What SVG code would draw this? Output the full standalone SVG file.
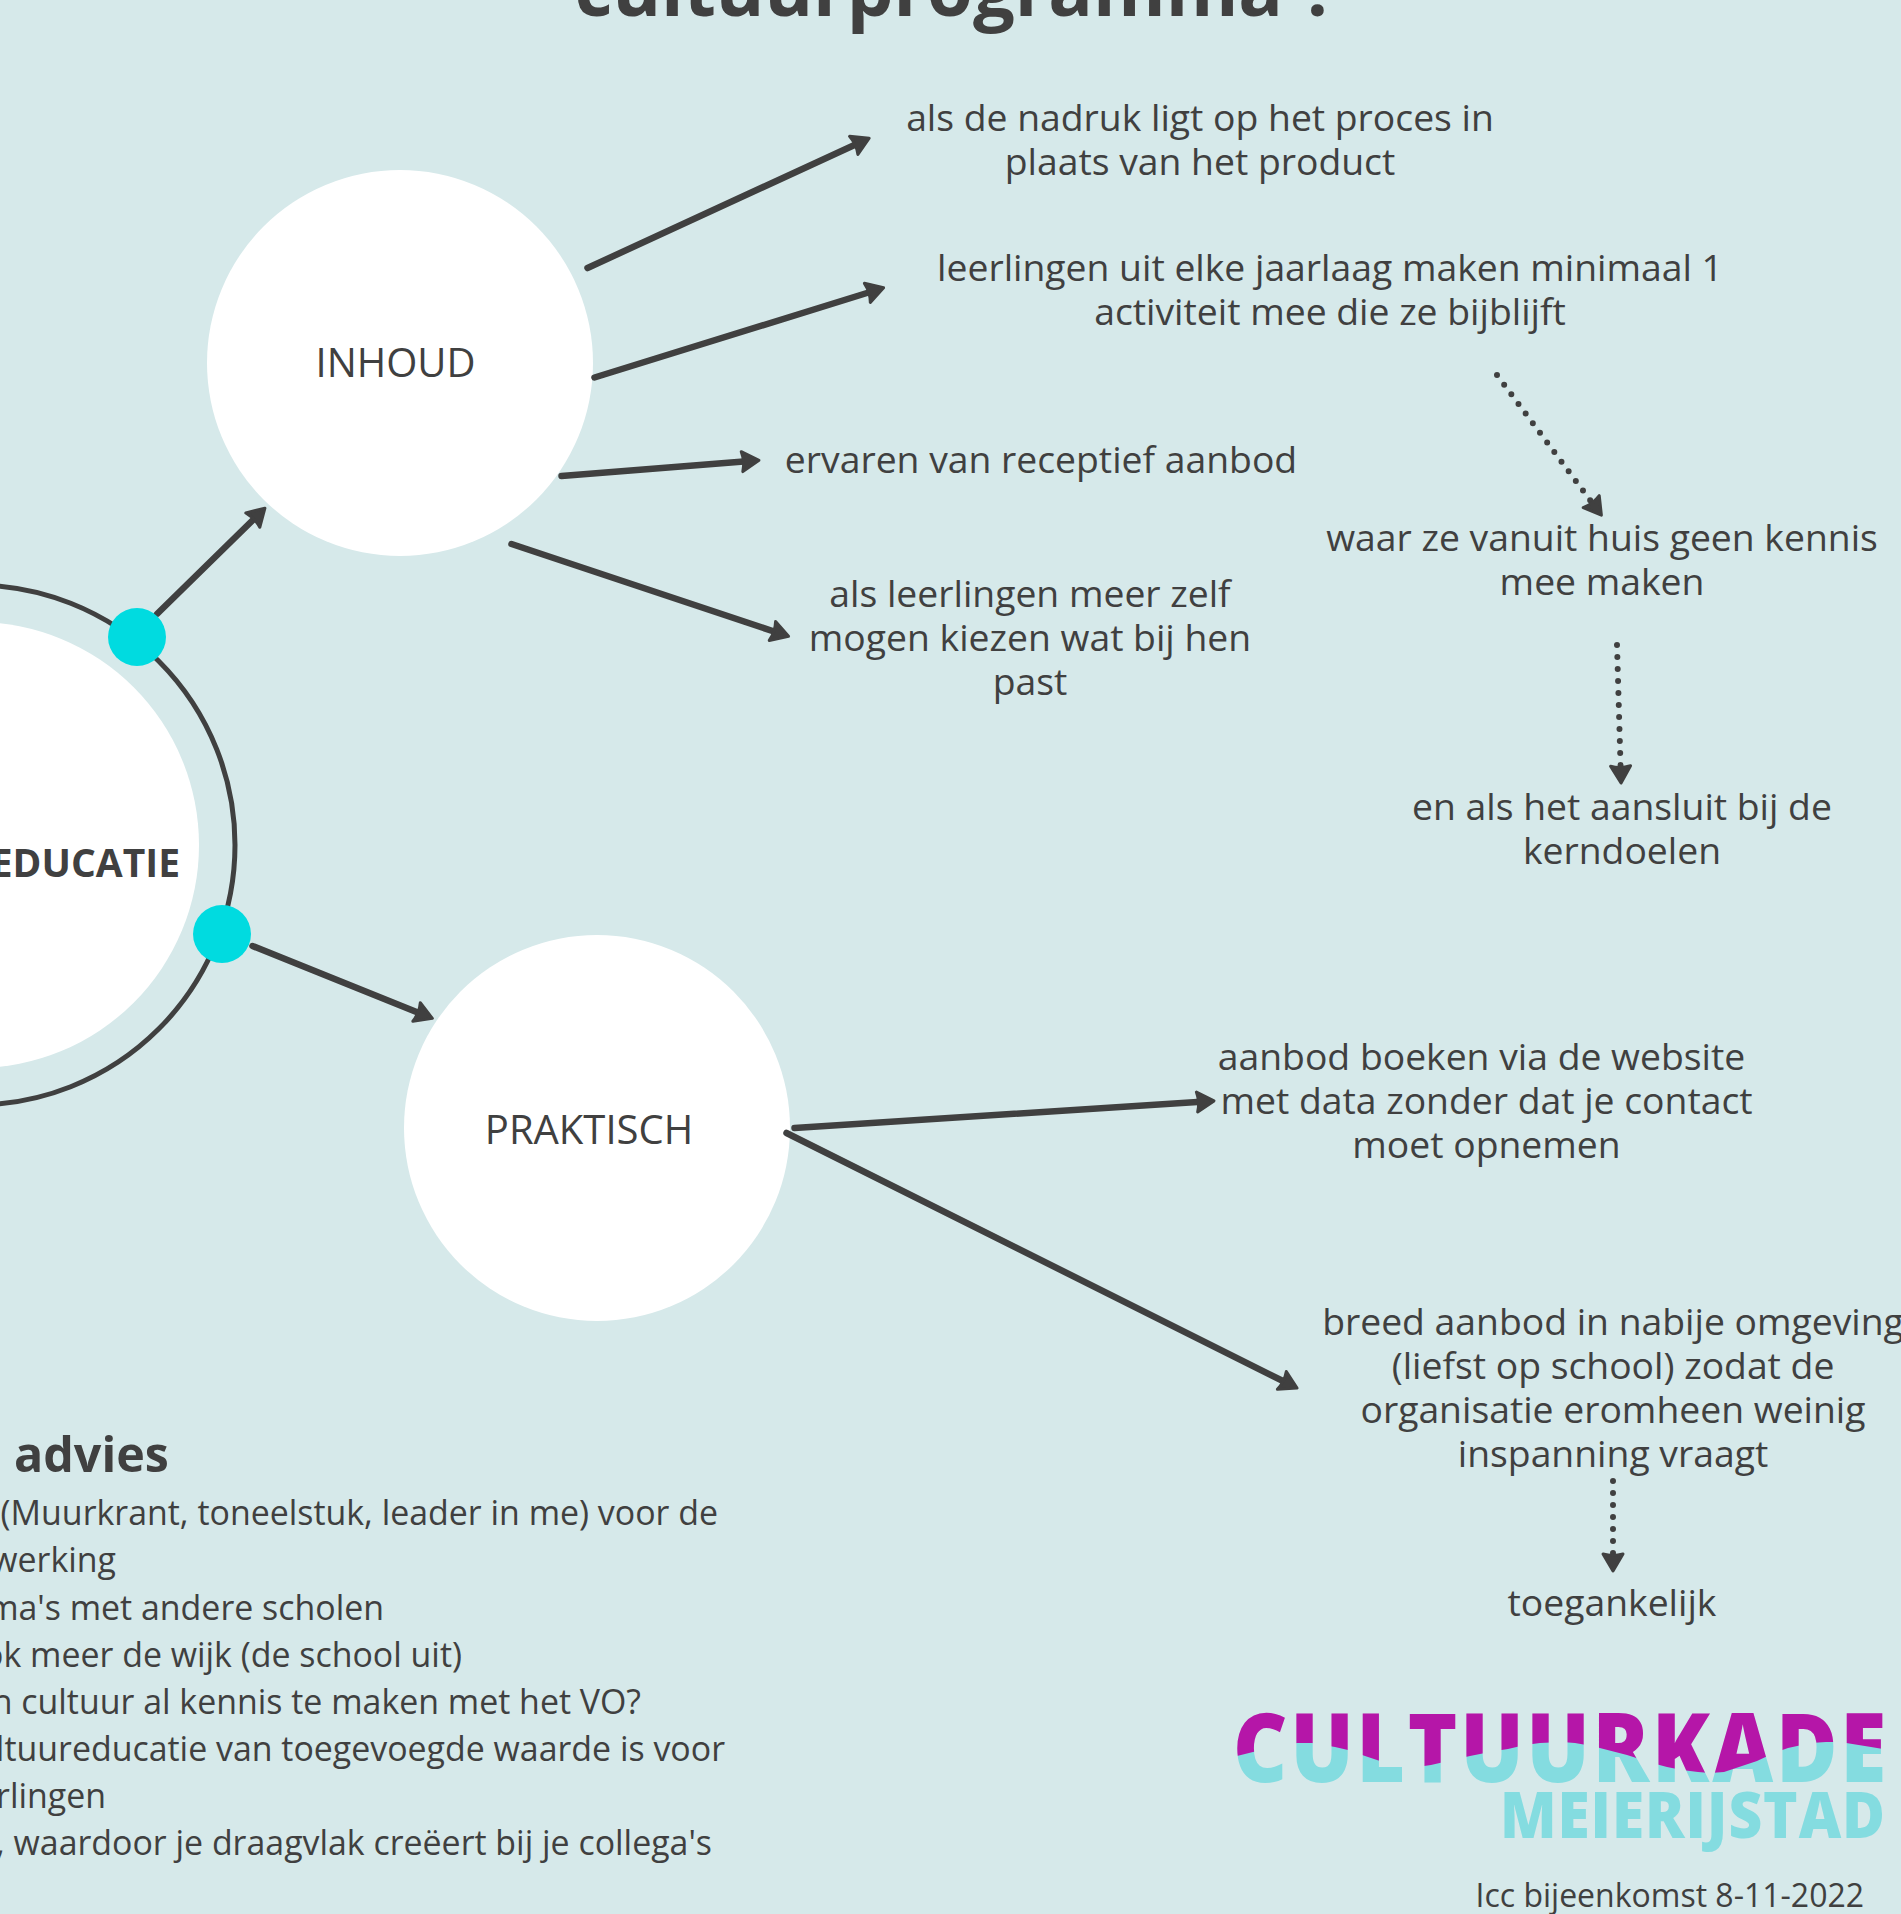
<svg xmlns="http://www.w3.org/2000/svg" width="1901" height="1914" viewBox="0 0 1901 1914">
<style>
text{font-family:"Open Sans","Noto Sans","Liberation Sans",sans-serif;fill:#404040}
.t{font-size:37.3px;text-anchor:middle}
.l{font-size:33.9px;text-anchor:end}
.n{font-size:40px;text-anchor:middle}
.c{stroke:#404040;stroke-width:6.5;stroke-linecap:round;fill:none;marker-end:url(#a)}
.d{stroke:#404040;stroke-width:6;stroke-linecap:round;stroke-dasharray:0 12;fill:none;marker-end:url(#a)}
.w{fill:#fff}.dot{fill:#00dbe0}
</style>
<defs>
<marker id="a" markerUnits="userSpaceOnUse" viewBox="-14 -14 28 28" refX="0" refY="0" markerWidth="28" markerHeight="28" orient="auto">
<path d="M-8,-10 L9,0 L-8,10 Q-5,0 -8,-10Z" fill="#404040" stroke="#404040" stroke-width="3" stroke-linejoin="round"/>
</marker>
<pattern id="wave" patternUnits="userSpaceOnUse" x="1200" y="1700" width="701" height="100">
<rect width="701" height="100" fill="#84dce0"/>
<path d="M0,0H701V52L671,47 640,42 626,42 611,43 588,48 574,53 557,61 524,72 510,73 498,72 482,70 467,67 452,63 427,55 392,46 375,43 362,42 340,43 325,45 308,49 295,51 270,56 257,59 231,65 217,67 180,61 165,56 148,50 135,47 112,43 97,43 53,52 37,56 0,60Z" fill="#b516a8"/>
</pattern>
</defs>
<rect width="1901" height="1914" fill="#d6e9ea"/>
<text id="title" x="956" y="15.5" font-size="74" font-weight="700" text-anchor="middle">cultuurprogramma ?</text>
<g id="center">
<circle cx="-25" cy="845" r="260" fill="none" stroke="#404040" stroke-width="5"/>
<circle class="w" cx="-24" cy="845" r="223"/>
<text x="180" y="877" font-size="39" font-weight="700" text-anchor="end">EDUCATIE</text>
</g>
<g id="inhoud"><circle class="w" cx="400" cy="363" r="193"/><text class="n" x="395.5" y="377">INHOUD</text></g>
<g id="praktisch"><circle class="w" cx="597" cy="1128" r="193"/><text class="n" x="589" y="1144">PRAKTISCH</text></g>
<g id="connectors">
<line class="c" x1="587.5" y1="268" x2="861" y2="142"/>
<line class="c" x1="594.5" y1="377.5" x2="875" y2="290.5"/>
<line class="c" x1="561.5" y1="476" x2="750" y2="461"/>
<line class="c" x1="511.5" y1="544" x2="780" y2="633.5"/>
<line class="c" x1="157" y1="614" x2="258.5" y2="514.5"/>
<line class="c" x1="252.5" y1="946" x2="424" y2="1015"/>
<line class="c" x1="794.5" y1="1128" x2="1205" y2="1101.5"/>
<line class="c" x1="786.5" y1="1133" x2="1289" y2="1384"/>
<line class="d" x1="1497" y1="375" x2="1596" y2="508"/>
<line class="d" x1="1617" y1="645" x2="1620.8" y2="774"/>
<line class="d" x1="1613" y1="1481" x2="1613" y2="1562"/>
</g>
<circle id="dot1" class="dot" cx="137" cy="637" r="29"/>
<circle id="dot2" class="dot" cx="222" cy="934" r="29"/>
<g id="t1"><text class="t" x="1200" y="131">als de nadruk ligt op het proces in</text><text class="t" x="1200" y="175">plaats van het product</text></g>
<g id="t2"><text class="t" x="1330" y="281">leerlingen uit elke jaarlaag maken minimaal 1</text><text class="t" x="1330" y="325">activiteit mee die ze bijblijft</text></g>
<g id="t3"><text class="t" x="1041" y="473">ervaren van receptief aanbod</text></g>
<g id="t4"><text class="t" x="1030" y="607">als leerlingen meer zelf</text><text class="t" x="1030" y="651">mogen kiezen wat bij hen</text><text class="t" x="1030" y="695">past</text></g>
<g id="t5"><text class="t" x="1602" y="551">waar ze vanuit huis geen kennis</text><text class="t" x="1602" y="595">mee maken</text></g>
<g id="t6"><text class="t" x="1622" y="820">en als het aansluit bij de</text><text class="t" x="1622" y="864">kerndoelen</text></g>
<g id="t7"><text class="t" x="1481.5" y="1069.5">aanbod boeken via de website</text><text class="t" x="1486.5" y="1113.5">met data zonder dat je contact</text><text class="t" x="1486.5" y="1157.5">moet opnemen</text></g>
<g id="t8"><text class="t" x="1613" y="1335">breed aanbod in nabije omgeving</text><text class="t" x="1613" y="1379">(liefst op school) zodat de</text><text class="t" x="1613" y="1423">organisatie eromheen weinig</text><text class="t" x="1613" y="1467">inspanning vraagt</text></g>
<g id="t9"><text class="t" x="1612" y="1616">toegankelijk</text></g>
<g id="advies">
<text x="14" y="1472" font-size="48.4" font-weight="700">advies</text>
<text class="l" x="718" y="1525">(Muurkrant, toneelstuk, leader in me) voor de</text>
<text class="l" x="116" y="1572">werking</text>
<text class="l" x="384" y="1619.5">ma's met andere scholen</text>
<text class="l" x="462" y="1666.5">ok meer de wijk (de school uit)</text>
<text class="l" x="641" y="1714">n cultuur al kennis te maken met het VO?</text>
<text class="l" x="725" y="1761">ltuureducatie van toegevoegde waarde is voor</text>
<text class="l" x="106" y="1808">rlingen</text>
<text class="l" x="712" y="1855">, waardoor je draagvlak creëert bij je collega's</text>
</g>
<g id="logo">
<text x="1233" y="1782" font-size="95" font-weight="800" letter-spacing="3" style="fill:url(#wave)" textLength="656" lengthAdjust="spacingAndGlyphs">CULTUURKADE</text>
<text x="1500" y="1838" font-size="63" font-weight="800" letter-spacing="1" style="fill:#84dce0" textLength="386" lengthAdjust="spacingAndGlyphs">MEIERIJSTAD</text>
</g>
<text id="date" x="1475.5" y="1907" font-size="32">Icc bijeenkomst 8-11-2022</text>
</svg>
